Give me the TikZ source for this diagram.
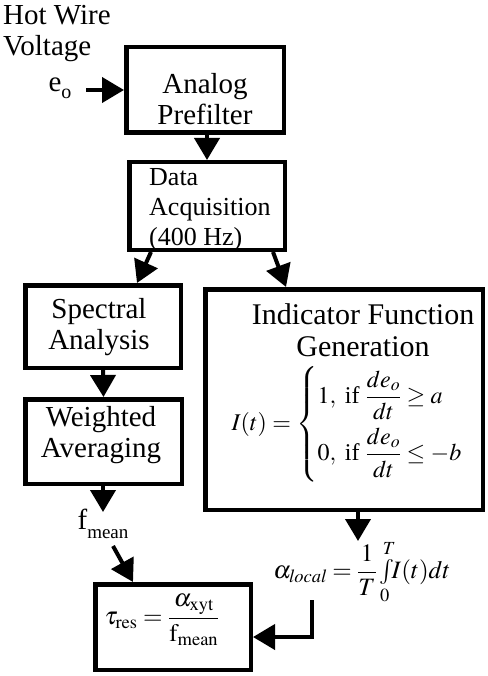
\documentclass[tikz,border=0pt]{standalone}
\usepackage{amsmath}
\usepackage{mathptmx}
\usepackage{fontspec}
\setmainfont{Liberation Serif}
\usetikzlibrary{arrows.meta,calc}
\begin{document}
\begin{tikzpicture}[x=1pt,y=-1pt,
  box/.style={draw, line width=4.5pt, inner sep=0pt},
  arr/.style={line width=4pt, -{Triangle[width=25pt,length=22pt]}},
  lbl/.style={font=\fontsize{29}{31}\selectfont, align=center, inner sep=0pt},
  sml/.style={font=\fontsize{26}{30}\selectfont, align=left, inner sep=0pt},
  mth/.style={font=\fontsize{26}{30}\selectfont, inner sep=0pt}]
\useasboundingbox (0,0) rectangle (487,676);
% boxes
\node[box, minimum width=157.5, minimum height=85.5] (analog) at (205,90) {};
\node[box, minimum width=155.5, minimum height=87.5] (data) at (207,206) {};
\node[box, minimum width=155.5, minimum height=82.5] (spec) at (103,326.5) {};
\node[box, minimum width=156.5, minimum height=84.5] (weight) at (103.5,441.5) {};
\node[box, minimum width=277.5, minimum height=220.5] (ind) at (344,399.5) {};
\node[box, minimum width=155.5, minimum height=85.5] (tau) at (173,627) {};
% texts
\node[lbl, align=left, anchor=west] (hot) at (3,34) {Hot Wire\\Voltage};
\node[lbl] (eo) at (60,88) {e\raisebox{-0.25em}{\fontsize{20}{20}\selectfont o}};
\node[lbl] (analogtxt) at (205,99) {Analog\\Prefilter};
\node[sml, anchor=west] (datatxt) at (149,210) {Data\\Acquisition\\(400 Hz)};
\node[lbl] (spectxt) at (99,327) {Spectral\\Analysis};
\node[lbl] (weighttxt) at (101,435) {Weighted\\Averaging};
\node[lbl, font=\fontsize{30}{32}\selectfont] (indtxt) at (363,330) {Indicator Function\\Generation};
\node[mth, font=\fontsize{24}{28}\selectfont] (indf) at (347,424) {$\displaystyle I(t)=\left\{\begin{array}{@{}l@{}}
  1,\ \text{if }\dfrac{de_o}{dt}\ge a\\[16pt]
  0,\ \text{if }\dfrac{de_o}{dt}\le -b\end{array}\right.$};
\node[lbl] (fmean) at (103,524) {f\raisebox{-0.3em}{\fontsize{19}{19}\selectfont mean}};
\node[mth, font=\fontsize{25}{30}\selectfont] (alpha) at (362,572) {$\alpha_{\mathit{local}}=\dfrac{1}{T}\,{\textstyle\int\limits_0^T}\! I(t)dt$};
\node[mth, font=\fontsize{25}{30}\selectfont] (taueq) at (162,620) {$\tau_{\mathrm{res}}=\dfrac{\alpha_{\mathrm{xyt}}}{\mathrm{f}_{\mathrm{mean}}}$};
% coordinates
\coordinate (ein) at (86,90);
\coordinate (fmtip) at (103,512);
\coordinate (fmout) at (113,546);
\coordinate (atip) at (358,541);
\coordinate (acorner) at (312,600);
% arrows
\draw[arr] (ein) -- (analog.west |- ein);
\draw[arr] (data.north |- analog.south) -- (data.north);
\draw[arr] ($(data.south west)+(24,0)$) -- ($(spec.north)+(34,0)$);
\draw[arr] ($(data.south east)+(-14,0)$) -- ($(ind.north west)+(83,0)$);
\draw[arr] (spec.south) -- (weight.north);
\draw[arr] (weight.south -| fmtip) -- (fmtip);
\draw[arr] (fmout) -- ($(tau.north west)+(40,0)$);
\draw[arr] (ind.south -| atip) -- (atip);
\draw[arr] (acorner) |- ($(tau.east)+(0,10)$);
\end{tikzpicture}
\end{document}
